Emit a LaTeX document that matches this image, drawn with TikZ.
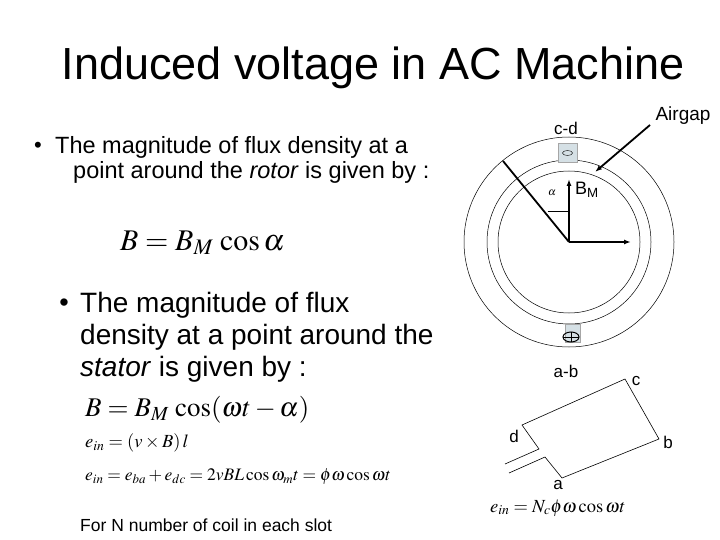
\documentclass[tikz,border=0pt]{standalone}
\usepackage{mathptmx}
\usepackage{fontspec}
\setmainfont{Liberation Sans}
\usetikzlibrary{arrows.meta}
\begin{document}
\begin{tikzpicture}[x=1pt,y=-1pt,
  ring/.style={draw,line width=0.5pt},
  slot/.style={draw=gray!70,fill=cyan!25!gray!30,line width=0.4pt},
  thick1/.style={line width=1.8pt},
  lbl/.style={inner sep=0pt,font=\fontsize{17}{17}\selectfont},
  txt/.style={inner sep=0pt,anchor=west}]
\useasboundingbox (0,0) rectangle (720,540);
% title
\node (title) at (373,68) [inner sep=0pt,font=\fontsize{45}{45}\selectfont] {Induced voltage in AC Machine};
% bullet 1
\node (b1) at (38,147) [inner sep=0pt,font=\fontsize{22}{22}\selectfont] {\textbullet};
\node (t1) at (55,147) [txt,font=\fontsize{23.5}{23.5}\selectfont] {The magnitude of flux density at a};
\node (t1b) at (73,172) [txt,font=\fontsize{23.5}{23.5}\selectfont] {point around the \textit{rotor} is given by :};
\node (eq1) at (120,243) [txt,font=\fontsize{30}{30}\selectfont] {$B = B_M\,\cos\alpha$};
% bullet 2
\node (b2) at (64,305) [inner sep=0pt,font=\fontsize{27}{27}\selectfont] {\textbullet};
\node (t2) at (80,305) [txt,font=\fontsize{28}{28}\selectfont] {The magnitude of flux};
\node (t2b) at (80,337) [txt,font=\fontsize{28}{28}\selectfont] {density at a point around the};
\node (t2c) at (80,369) [txt,font=\fontsize{28}{28}\selectfont] {\textit{stator} is given by :};
\node (eq2) at (85,410) [txt,font=\fontsize{27}{27}\selectfont] {$B = B_M\,\cos(\omega t-\alpha)$};
\node (eq3) at (85,443) [txt,font=\fontsize{18.5}{18.5}\selectfont] {$e_{in} = (v\times B)\,l$};
\node (eq4) at (85,477) [txt,font=\fontsize{17.5}{17.5}\selectfont] {$e_{in} = e_{ba}+e_{dc} = 2vBL\cos\omega_m t = \phi\omega\cos\omega t$};
\node (foot) at (80,525) [txt,font=\fontsize{17.5}{17.5}\selectfont] {For N number of coil in each slot};
% machine
\coordinate (O) at (569,242);
\draw[ring] (O) circle[radius=105];
\draw[ring] (O) circle[radius=82];
\draw[ring] (O) circle[radius=71];
\node (s1) [slot,minimum width=19,minimum height=19,inner sep=0pt] at (567.5,153) {};
\draw (567.5,153) ellipse[x radius=5,y radius=2.5];
\node (s2) [slot,minimum width=15,minimum height=18,inner sep=0pt] at (572.5,333) {};
\draw[line width=1pt] (571,337) ellipse[x radius=8,y radius=5];
\draw[line width=0.8pt] (563,337) -- (579,337) (571,332) -- (571,342);
\coordinate (rim) at (503,161);
\coordinate (bm) at (569,179);
\coordinate (rt) at (631,242);
\draw[thick1] (O) -- (rim);
\draw[thick1,-{Latex[length=7pt,width=5pt]}] (O) -- (bm);
\draw[thick1,-{Latex[length=7pt,width=5pt]}] (O) -- (rt);
\draw[line width=0.5pt] (547.5,211) -- (569,211);
\node (al) at (552,193) [lbl,font=\fontsize{11}{11}\selectfont] {$\alpha$};
\node (BM) at (575,190) [txt,font=\fontsize{18}{18}\selectfont] {B\textsubscript{M}};
\node (cd) at (566,128) [lbl] {c-d};
\node (ag) at (683,116) [lbl,font=\fontsize{19}{19}\selectfont] {Airgap};
\coordinate (agp) at (595,172);
\coordinate (ags) at (650,125);
\draw[thick1,-{Latex[length=7pt,width=5pt]}] (ags) -- (agp);
\node (ab) at (566,371) [lbl] {a-b};
% coil
\coordinate (cd1) at (522,425);
\coordinate (cc) at (625,379);
\coordinate (cb) at (659,439);
\coordinate (ca) at (562,478);
\coordinate (cl) at (545,457);
\coordinate (ci) at (539,449);
\coordinate (la) at (505,464);
\coordinate (lb) at (509,473);
\draw[line width=0.6pt] (la) -- (ci) -- (cd1) -- (cc) -- (cb) -- (ca) -- (cl) -- (lb);
\node (lc) at (636,381) [lbl] {c};
\node (lbb) at (668,442) [lbl] {b};
\node (ld) at (514,436) [lbl] {d};
\node (la2) at (558,485) [lbl] {a};
\node (eq5) at (490,508) [txt,font=\fontsize{18.5}{18.5}\selectfont] {$e_{in} = N_c\phi\omega\cos\omega t$};
\end{tikzpicture}
\end{document}
